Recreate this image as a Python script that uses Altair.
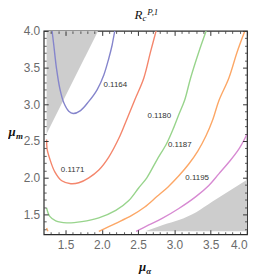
import altair as alt
import pandas as pd

# ---- contour curves ----
levels = ["0.1164", "0.1171", "0.1180", "0.1187", "0.1195"]
level_colors = ["#8585cc", "#f4866c", "#98d48c", "#fca766", "#d78ad2"]

c1164_x = [1.315, 1.339, 1.376, 1.421, 1.477, 1.545, 1.605, 1.707, 1.821, 1.935, 2.028, 2.096, 2.142, 2.179]
c1164_y = [4.0, 3.805, 3.49, 3.22, 3.02, 2.906, 2.875, 2.915, 3.04, 3.198, 3.40, 3.625, 3.805, 4.0]

c1171_x = [2.748, 2.671, 2.578, 2.455, 2.344, 2.248, 2.096, 1.959, 1.821, 1.683, 1.573, 1.449, 1.353, 1.284, 1.247, 1.24]
c1171_y = [4.0, 3.714, 3.356, 3.063, 2.794, 2.565, 2.282, 2.106, 1.999, 1.931, 1.918, 1.958, 2.08, 2.255, 2.389, 2.52]

c1180_x = [3.437, 3.336, 3.222, 3.143, 3.061, 2.992, 2.895, 2.758, 2.620, 2.510, 2.372, 2.193, 1.959, 1.725, 1.518, 1.366, 1.284, 1.24]
c1180_y = [4.0, 3.714, 3.356, 3.063, 2.861, 2.686, 2.470, 2.241, 1.999, 1.864, 1.689, 1.554, 1.453, 1.402, 1.385, 1.412, 1.473, 1.588]

c1187_x = [3.970, 3.864, 3.749, 3.612, 3.529, 3.432, 3.322, 3.198, 3.061, 2.909, 2.758, 2.592, 2.413, 2.193, 1.959]
c1187_y = [4.0, 3.714, 3.356, 3.05, 2.794, 2.565, 2.363, 2.187, 2.026, 1.871, 1.743, 1.601, 1.487, 1.379, 1.27]
c1187b_x = [1.24, 1.258]
c1187b_y = [1.315, 1.27]

c1195_x = [2.472, 2.647, 2.831, 3.061, 3.291, 3.474, 3.612, 3.749, 3.887, 4.0]
c1195_y = [1.27, 1.356, 1.446, 1.581, 1.739, 1.895, 2.053, 2.210, 2.389, 2.592]

# ---- excluded (grey) regions ----
grey_tl_x = [1.24, 1.949]
grey_tl_top = [4.0, 4.0]
grey_tl_bot = [2.6, 4.0]
grey_br_x = [2.60, 2.85, 3.061, 3.30, 3.519, 4.0]
grey_br_top = [1.27, 1.36, 1.423, 1.53, 1.671, 1.972]
grey_br_bot = [1.27, 1.27, 1.27, 1.27, 1.27, 1.27]

# ---- contour labels ----
label_text = ["0.1164", "0.1171", "0.1180", "0.1187", "0.1195"]
label_x = [2.186, 1.598, 2.792, 3.074, 3.313]
label_y = [3.265, 2.10, 2.838, 2.447, 1.999]

# ---- ticks ----
x_ticks = [1.3, 1.4, 1.5, 1.6, 1.7, 1.8, 1.9, 2.0, 2.1, 2.2, 2.3, 2.4, 2.5, 2.6, 2.7, 2.8, 2.9,
           3.0, 3.1, 3.2, 3.3, 3.4, 3.5, 3.6, 3.7, 3.8, 3.9, 4.0]
y_ticks = list(x_ticks)

W, H = 205, 205

rows = []
def add(seg, lev, xs, ys):
    for i, (a, b) in enumerate(zip(xs, ys)):
        rows.append({"seg": seg, "level": lev, "i": i, "x": a, "y": b})
add("a", "0.1164", c1164_x, c1164_y)
add("b", "0.1171", c1171_x, c1171_y)
add("c", "0.1180", c1180_x, c1180_y)
add("d", "0.1187", c1187_x, c1187_y)
add("e", "0.1187", c1187b_x, c1187b_y)
add("f", "0.1195", c1195_x, c1195_y)
lines_df = pd.DataFrame(rows)

grey_rows = []
for xs_, t, b, r in [(grey_tl_x, grey_tl_top, grey_tl_bot, "tl"), (grey_br_x, grey_br_top, grey_br_bot, "br")]:
    for a, tt, bb in zip(xs_, t, b):
        grey_rows.append({"region": r, "x": a, "top": tt, "bot": bb})
grey_df = pd.DataFrame(grey_rows)

labels_df = pd.DataFrame({"t": label_text, "x": label_x, "y": label_y})

MAJ = "abs(datum.value*2 - round(datum.value*2)) < 0.01"
tick_style = dict(
    ticks=False, tickSize=0, domain=False, grid=True, zindex=1,
    gridColor="#333333", gridOpacity=1,
    gridWidth={"condition": {"test": MAJ, "value": 1.0}, "value": 0.8},
    gridDash={"condition": {"test": MAJ, "value": [4.5, W - 9, 4.5, 1000]},
              "value": [2.5, W - 5, 2.5, 1000]},
    labelExpr=MAJ + " ? format(datum.value, '.1f') : ''",
    labelFont="Liberation Sans", labelFontSize=12, labelColor="#6b6b6b",
    labelOverlap=False, labelFlush=False, labelBound=False, title=None,
)
x_axis = alt.Axis(values=x_ticks, labelPadding=5,
                  labelAlign={"condition": {"test": "datum.value > 3.95", "value": "right"}, "value": "center"},
                  **tick_style)
y_axis = alt.Axis(values=y_ticks, labelPadding=4, **tick_style)
xs = alt.Scale(domain=[1.2, 4.0], nice=False, zero=False)
ys = alt.Scale(domain=[1.23, 4.0], nice=False, zero=False)

grey = alt.Chart(grey_df).mark_area(color="#cdcdcd", opacity=1, clip=True, interpolate="monotone").encode(
    x=alt.X("x:Q", scale=xs, axis=x_axis),
    y=alt.Y("top:Q", scale=ys, axis=y_axis),
    y2="bot:Q",
    detail="region:N",
)

lines = alt.Chart(lines_df).mark_line(strokeWidth=1.4, clip=True, interpolate="catmull-rom").encode(
    x=alt.X("x:Q", scale=xs, axis=x_axis),
    y=alt.Y("y:Q", scale=ys, axis=y_axis),
    color=alt.Color("level:N", scale=alt.Scale(domain=levels, range=level_colors), legend=None),
    detail="seg:N",
    order="i:Q",
)

labels = alt.Chart(labels_df).mark_text(font="Liberation Sans", fontSize=8, color="#333333").encode(
    x=alt.X("x:Q", scale=xs, axis=x_axis),
    y=alt.Y("y:Q", scale=ys, axis=y_axis),
    text="t:N",
)

def txt(s, px, py, size, weight="normal", style="italic", font="Liberation Serif", color="#111111"):
    return alt.Chart(pd.DataFrame({"t": [s]})).mark_text(
        font=font, fontSize=size, fontStyle=style, fontWeight=weight, color=color,
        align="left", baseline="alphabetic",
    ).encode(x=alt.value(px), y=alt.value(py), text="t:N")

annot = [
    txt("R", 91.5, -12.5, 13),
    txt("c", 99.5, -10, 9),
    txt("P,1", 104.5, -16.5, 9),
    txt("μ", -35.5, 106, 13, weight="bold"),
    txt("m", -28, 109, 9, weight="bold"),
    txt("μ", 96, 242, 13, weight="bold"),
    txt("α", 103.5, 245, 9, weight="bold"),
]

chart = alt.layer(grey, lines, labels, *annot).properties(
    width=W, height=H,
    autosize=alt.AutoSizeParams(type="none"),
    padding={"left": 36, "top": 22, "right": 3, "bottom": 41},
).configure_view(stroke="#2b2b2b", strokeWidth=1.2)

chart.save("out.html", embed_options={"renderer": "svg", "actions": False})
